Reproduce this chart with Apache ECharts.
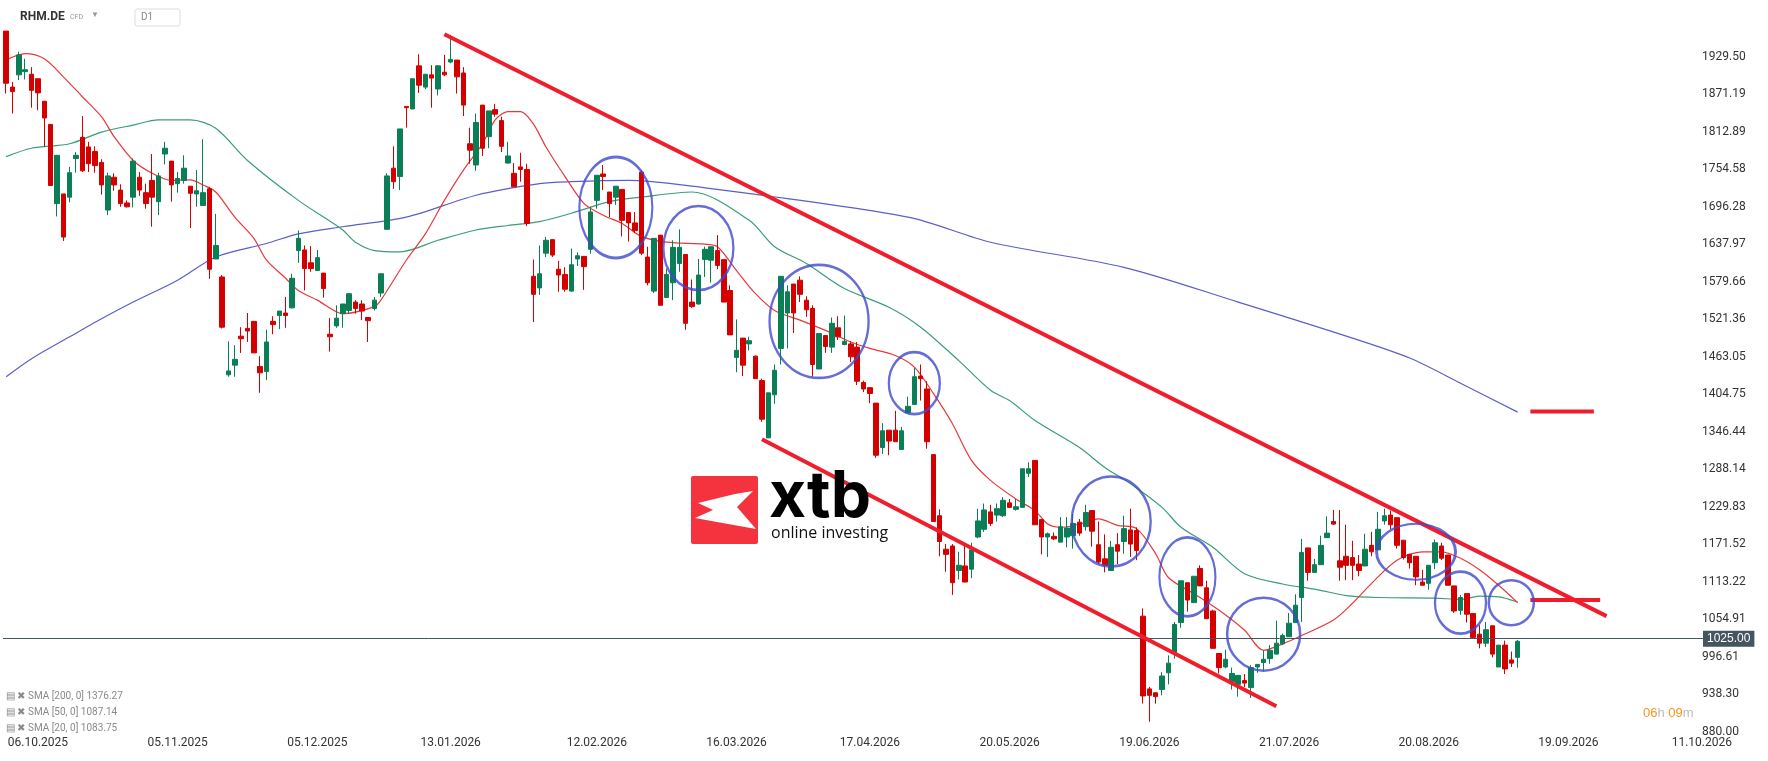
<!DOCTYPE html>
<html><head><meta charset="utf-8">
<script src="https://cdn.jsdelivr.net/npm/echarts@6/dist/echarts.min.js"></script>
<style>html,body{margin:0;padding:0;background:#fff}#c{width:1768px;height:761px}</style>
</head><body><div id="c"></div>
<script>
const open=[1969,1882,1901,1906,1902,1895,1860,1824,1701,1716,1711,1771,1804,1789,1782,1765,1691,1742,1722,1702,1711,1742,1718,1737,1704,1778,1767,1732,1737,1728,1716,1698,1724,1615,1587,
1435,1450,1495,1507,1518,1448,1440,1518,1527,1531,1539,1628,1629,1609,1597,1593,1498,1511,1530,1535,
1548,1545,1524,1538,1562,1661,1756,1743,1852,1848,1915,1882,1901,1879,1905,1921,1924,1904,1794,1761,1854,1805,1847,1830,1764,1748,1758,1754,
1588,1570,1624,1645,1599,1591,1565,1615,1619,1630,1706,1747,1719,1711,1723,1687,1671,1750,1618,1565,1652,1555,1578,1608,1622,
1548,1545,1614,1613,1628,1614,1566,1462,1492,1483,1464,1426,1337,1404,1476,1531,1576,1582,1551,1538,1444,1496,1478,1508,1482,1483,1478,1423,1415,1391,1322,1349,1349,1319,1376,1389,1433,1413,1311,1216,1164,1169,1131,1138,1133,1183,1195,1222,1217,
1216,1236,1226,1229,1282,1302,1210,1183,1184,1175,1183,1185,1206,1199,1224,1171,1149,1131,1171,1176,1194,1193,
1060,947,941,946,972,1003,1050,1112,1081,1134,1104,1068,1002,981,958,954,960,949,981,988,994,1001,1017,1028,1050,1089,1166,1128,1140,1182,1207,1146,
1153,1151,1141,1138,1170,1163,1208,1217,1213,1178,1156,1153,1113,1111,1143,1169,1155,1107,1069,1095,1064,1032,1018,1045,981,1015,992,996];
const close=[1888,1875,1932,1909,1877,1873,1834,1729,1776,1649,1749,1776,1752,1763,1760,1730,1744,1730,1701,1696,1767,1722,1701,1711,1744,1787,1730,1740,1756,1717,1721,1718,1599,1636,1509,
1441,1459,1491,1503,1469,1438,1486,1513,1534,1527,1585,1647,1600,1600,1617,1569,1494,1523,1545,1561,
1538,1534,1519,1551,1592,1744,1735,1817,1850,1895,1885,1902,1896,1915,1901,1925,1898,1854,1784,1827,1787,1845,1840,1790,1775,1727,1754,1670,
1560,1592,1644,1621,1590,1568,1606,1620,1603,1688,1745,1743,1701,1728,1675,1671,1659,1624,1578,1647,1543,1591,1633,1633,1515,
1541,1590,1630,1634,1605,1548,1497,1473,1450,1488,1429,1366,1407,1442,1588,1564,1531,1560,1536,1451,1499,1479,1515,1494,1487,1463,1425,1413,1406,1310,1348,1332,1331,1348,1386,1432,1429,1331,1207,1176,1156,1112,1139,1113,1163,1208,1225,1204,1227,
1240,1229,1230,1289,1289,1202,1183,1188,1180,1199,1197,1204,1189,1221,1192,1144,1139,1167,1161,1196,1172,1162,
936,937,935,967,987,1047,1115,1085,1122,1107,1056,1010,980,993,971,968,956,980,985,993,1007,1018,1030,1049,1077,1159,1128,1140,1170,1189,1203,1136,
1139,1139,1131,1164,1160,1195,1216,1202,1170,1151,1143,1121,1108,1139,1174,1150,1108,1068,1089,1063,1027,1018,1039,1001,1015,978,987,1021];
const low=[1872,1841,1893,1894,1850,1846,1789,1729,1681,1643,1703,1749,1750,1750,1749,1715,1683,1721,1696,1695,1695,1713,1693,1665,1683,1762,1704,1718,1732,1663,1696,1698,1584,1615,1507,
1432,1432,1469,1486,1469,1407,1427,1498,1506,1508,1538,1609,1566,1595,1597,1555,1471,1508,1508,1530,
1530,1520,1486,1535,1556,1661,1724,1722,1819,1848,1873,1879,1850,1869,1899,1919,1872,1837,1763,1752,1775,1787,1836,1781,1763,1727,1735,1666,
1517,1559,1618,1618,1564,1564,1564,1604,1567,1623,1693,1722,1680,1699,1650,1642,1655,1621,1574,1562,1543,1555,1551,1595,1505,
1539,1544,1587,1578,1599,1548,1497,1439,1433,1473,1429,1362,1337,1390,1451,1476,1500,1548,1525,1432,1444,1469,1469,1489,1481,1455,1419,1408,1391,1306,1312,1310,1331,1319,1376,1388,1395,1320,1207,1153,1129,1093,1117,1113,1119,1181,1191,1200,1207,
1214,1228,1224,1229,1276,1202,1156,1152,1178,1175,1167,1165,1185,1193,1168,1141,1128,1131,1141,1157,1152,1147,
924,896,924,937,954,994,1042,1067,1081,1107,1056,1010,971,979,946,935,950,933,972,975,986,1001,1015,1028,1050,1051,1115,1128,1140,1182,1202,1115,
1116,1116,1122,1138,1153,1163,1202,1195,1165,1148,1134,1108,1108,1101,1133,1147,1108,1065,1062,1050,1025,1010,1012,996,981,970,981,980];
const high=[1969,1890,1937,1926,1913,1895,1860,1824,1776,1716,1758,1781,1837,1797,1790,1770,1749,1748,1731,1706,1771,1750,1732,1778,1749,1797,1767,1750,1776,1728,1753,1801,1727,1685,1590,
1487,1481,1509,1531,1518,1464,1505,1526,1534,1556,1592,1659,1636,1635,1629,1593,1523,1543,1545,1561,
1551,1551,1524,1556,1592,1748,1790,1817,1852,1895,1933,1902,1916,1916,1932,1963,1924,1913,1819,1841,1854,1845,1856,1836,1797,1764,1780,1763,
1614,1636,1649,1645,1612,1602,1631,1625,1619,1696,1745,1761,1719,1728,1723,1687,1688,1753,1634,1647,1652,1600,1644,1661,1622,
1583,1615,1634,1634,1652,1614,1574,1521,1492,1494,1465,1429,1407,1451,1588,1574,1576,1588,1557,1543,1500,1496,1524,1526,1527,1487,1486,1426,1416,1391,1360,1349,1379,1354,1401,1446,1451,1425,1311,1226,1172,1172,1160,1169,1174,1227,1235,1233,1235,
1245,1242,1242,1289,1299,1302,1210,1190,1190,1214,1214,1219,1211,1233,1224,1207,1187,1177,1189,1216,1227,1198,
1072,950,941,973,999,1051,1115,1112,1122,1139,1115,1070,1002,1008,980,968,970,984,985,1007,1015,1053,1033,1065,1094,1180,1166,1149,1185,1215,1225,1225,
1202,1177,1155,1188,1191,1222,1227,1224,1213,1178,1156,1153,1132,1139,1179,1174,1155,1107,1093,1095,1064,1046,1051,1045,1015,1022,1005,1023];

const sma20=[[0,1924],[3,1934],[6,1926],[9,1898],[12,1867],[15,1836],[17,1805],[20,1768],[23,1748],[26,1737],[29,1738],[31,1730],[33,1719],[36,1680],[39,1647],[41,1613],[44,1585],[46,1566],[49,1551],[53,1530],[58,1541],[59,1551],[63,1613],[66,1654],[69,1706],[72,1753],[75,1794],[77,1831],[79,1844],[81,1844],[83,1825],[85,1789],[88,1743],[91,1701],[94,1683],[97,1670],[100,1650],[104,1641],[110,1638],[112,1634],[115,1597],[118,1561],[121,1535],[125,1520],[129,1504],[133,1486],[136,1476],[140,1465],[143,1447],[146,1406],[149,1359],[152,1302],[155,1271],[159,1242],[162,1224],[164,1203],[166,1198],[169,1203],[172,1211],[175,1201],[178,1196],[181,1157],[183,1120],[187,1095],[191,1069],[195,1038],[198,1007],[201,1017],[204,1030],[209,1054],[212,1080],[215,1111],[219,1147],[223,1160],[226,1160],[229,1150],[232,1132],[235,1108],[238,1081]];
const sma50=[[0,1774],[4,1787],[10,1794],[15,1812],[20,1823],[24,1831],[29,1831],[33,1818],[38,1768],[46,1706],[53,1660],[55,1641],[58,1628],[62,1626],[68,1644],[74,1660],[79,1667],[84,1673],[89,1686],[95,1704],[100,1711],[108,1719],[117,1675],[121,1634],[126,1608],[132,1569],[139,1540],[144,1509],[150,1457],[155,1411],[158,1395],[162,1364],[169,1322],[173,1291],[177,1266],[182,1229],[185,1198],[190,1167],[195,1126],[201,1110],[206,1102],[211,1092],[216,1089],[225,1088],[229,1086],[232,1091],[235,1090],[238,1082]];
const sma200=[[0,1432],[4,1460],[10,1494],[15,1522],[20,1548],[27,1582],[33,1618],[41,1639],[46,1654],[53,1665],[63,1680],[74,1714],[84,1732],[89,1735],[98,1737],[108,1728],[142,1680],[155,1641],[176,1602],[194,1548],[212,1492],[221,1461],[229,1422],[238,1377]];
const upperTrend=[[69,1964],[252,1060]];
const lowerTrend=[[119,1335],[200,920]];
const levelHigh=[[240,1378],[250,1378]];
const levelLow=[[240,1085],[251,1085]];
const circles=[[96,1695,73,101],[109,1632,70,84],[128,1518,99,113],[143,1422,51,62],[174,1207,79,90],[186,1121,56,79],[198,1032,73,73],[222,1160,79,56],[229,1081,51,62],[237,1081,45,45]];
const dateLabels=['06.10.2025','05.11.2025','05.12.2025','13.01.2026','12.02.2026','16.03.2026','17.04.2026','20.05.2026','19.06.2026','21.07.2026','20.08.2026','19.09.2026','11.10.2026'];
const dateIdx=[5,27,49,70,93,115,136,158,180,202,224,246,267];
const priceTicks=['880.00','938.30','996.61','1054.91','1113.22','1171.52','1229.83','1288.14','1346.44','1404.75','1463.05','1521.36','1579.66','1637.97','1696.28','1754.58','1812.89','1871.19','1929.50'];
const lastPrice=1025.00;
const legendTexts=['SMA [200, 0] 1376.27','SMA [50, 0] 1087.14','SMA [20, 0] 1083.75'];

const SLOTS=268, TICK=58.3056;
const cats=[];for(let i=0;i<SLOTS;i++)cats.push(String(i));
const candles=open.map((o,i)=>[o,close[i],low[i],high[i]]);
const chart=echarts.init(document.getElementById('c'));
const lineS=(name,data,color,w)=>({name,type:'line',data,symbol:'none',smooth:0.3,lineStyle:{color,width:w},z:3,silent:true});
const trendS=(data)=>({type:'line',data,symbol:'none',lineStyle:{color:'#f01e2c',width:4},z:5,silent:true});
chart.setOption({
 animation:false,
 grid:{left:3,right:63,top:19,bottom:29},
 xAxis:{type:'category',data:cats,boundaryGap:true,axisLine:{show:false},axisTick:{show:false},splitLine:{show:false},
   axisLabel:{interval:(i)=>dateIdx.includes(i),formatter:(v,i)=>dateLabels[dateIdx.indexOf(Number(v))]||'',color:'#333',fontSize:12,margin:5,fontFamily:'Roboto'}},
 yAxis:{type:'value',position:'right',min:880,max:880+19*TICK,interval:TICK,splitLine:{show:false},axisLine:{show:false},axisTick:{show:false},
   axisLabel:{showMaxLabel:false,inside:false,margin:-3,align:'left',color:'#333',fontSize:12,fontFamily:'Roboto',
     formatter:(v)=>priceTicks[Math.round((v-880)/TICK)]||''}},
 series:[
  lineS('sma200',sma200,'#5b5fc7',1.2),
  lineS('sma50',sma50,'#3a9d74',1.2),
  lineS('sma20',sma20,'#e8383d',1.2),
  {type:'candlestick',data:candles,barWidth:5,z:4,
   itemStyle:{color:'#0a7f56',color0:'#d40000',borderColor:'#0a7f56',borderColor0:'#d40000',borderWidth:1},
   markLine:{symbol:'none',silent:true,data:[{yAxis:lastPrice}],lineStyle:{color:'#455560',width:1,type:'solid'},
     label:{position:'end',formatter:lastPrice.toFixed(2),backgroundColor:'#455560',color:'#fff',fontSize:12,padding:[2,4],distance:-2}}},
  trendS(upperTrend),trendS(lowerTrend),trendS(levelHigh),trendS(levelLow),
  {type:'scatter',data:circles.map(c=>({value:[c[0],c[1]],symbolSize:[c[2],c[3]]})),symbol:'circle',z:6,silent:true,
   itemStyle:{color:'rgba(0,0,0,0)',borderColor:'#3f48cc',borderWidth:2.5}}
 ],
 graphic:[
  {type:'rect',shape:{x:691,y:476,width:67,height:68,r:2},style:{fill:'#f5333f'},z:10},
  {type:'polygon',shape:{points:[[698,503],[735,494],[753,491],[737,507],[756,529],[717,522],[695,518],[713,510]]},style:{fill:'#fff'},z:11},
  {type:'text',left:769,top:466,style:{text:'xtb',font:'bold 64px Inter, "Open Sans", sans-serif',fill:'#000'},z:10},
  {type:'text',left:771,top:525,style:{text:'online investing',font:'16px "Open Sans", sans-serif',fill:'#111'},z:10},
  {type:'text',left:20,top:11,style:{text:'RHM.DE',font:'bold 12px Roboto, sans-serif',fill:'#333'}},
  {type:'text',left:70,top:14,style:{text:'CFD',font:'7px Roboto, sans-serif',fill:'#999'}},
  {type:'text',left:91,top:11,style:{text:'▼',font:'8px sans-serif',fill:'#999'}},
  {type:'rect',shape:{x:135,y:9,width:45,height:17,r:2},style:{fill:'#fff',stroke:'#ddd'}},
  {type:'text',left:141,top:12,style:{text:'D1',font:'10px Roboto, sans-serif',fill:'#888'}},
  ...legendTexts.map((t,i)=>({type:'text',left:6,top:691+i*16,style:{text:'▤ ✖ '+t,font:'10px "Liberation Sans Narrow", Roboto, sans-serif',fill:'#8a8a8a'}})),
  {type:'text',left:1643,top:707,style:{rich:{o:{fill:'#f7941d',fontSize:13},g:{fill:'#bbb',fontSize:13}},text:'{o|06}{g|h }{o|09}{g|m}'}}
 ]
});
</script></body></html>
